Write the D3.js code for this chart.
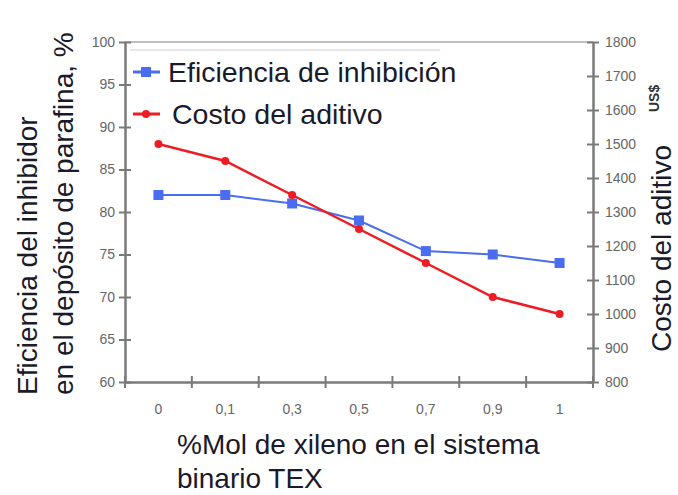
<!DOCTYPE html>
<html><head><meta charset="utf-8">
<script src="https://cdn.jsdelivr.net/npm/d3@7"></script>
<style>body{margin:0;background:#fff}svg{display:block}text{font-family:"Liberation Sans",Arial,sans-serif}</style>
</head><body>
<svg id="c" width="678" height="495"></svg>
<script>
const categories = ["0","0,1","0,3","0,5","0,7","0,9","1"];
const eficiencia = [82, 82, 81, 79, 75.4, 75, 74];
const costo = [1500, 1450, 1350, 1250, 1150, 1050, 1000];
const leftTicks = [60,65,70,75,80,85,90,95,100];
const rightTicks = [800,900,1000,1100,1200,1300,1400,1500,1600,1700,1800];
const seriesNames = ["Eficiencia de inhibición","Costo del aditivo"];

const svg = d3.select("#c");
const L=125, R=593, T=42, B=382;
const x = d3.scaleBand().domain(categories).range([L,R]).padding(0);
const yL = d3.scaleLinear().domain([60,100]).range([B,T]);
const yR = d3.scaleLinear().domain([800,1800]).range([B,T]);
const axisColor="#7a7a7a", labColor="#666", txt="#1a1a2a";

// top border
svg.append("line").attr("x1",L).attr("x2",R).attr("y1",T).attr("y2",T).attr("stroke","#aaa").attr("stroke-width",1.5);

// left axis
const gl = svg.append("g").attr("transform",`translate(${L},0)`)
  .call(d3.axisLeft(yL).tickValues(leftTicks).tickSizeInner(6).tickSizeOuter(0).tickPadding(4));
gl.selectAll(".tick line").attr("x2",6).attr("x1",-6);
// right axis
const gr = svg.append("g").attr("transform",`translate(${R},0)`)
  .call(d3.axisRight(yR).tickValues(rightTicks).tickFormat(d3.format("d")).tickSizeInner(6).tickSizeOuter(0).tickPadding(6));
gr.selectAll(".tick line").attr("x1",-6).attr("x2",6);
// bottom axis
const gb = svg.append("g").attr("transform",`translate(0,${B})`)
  .call(d3.axisBottom(x).tickSize(0).tickPadding(22));
gb.selectAll(".tick line").remove();
const edges = categories.map(c=>x(c)).concat([x(categories[categories.length-1])+x.bandwidth()]);
svg.append("g").selectAll("line").data(edges).join("line")
  .attr("x1",d=>d).attr("x2",d=>d).attr("y1",B-6).attr("y2",B+6)
  .attr("stroke",axisColor).attr("stroke-width",2);

[gl,gr,gb].forEach(g=>{
  g.select(".domain").attr("stroke",axisColor).attr("stroke-width",2.5);
  g.selectAll(".tick line").attr("stroke",axisColor).attr("stroke-width",2);
  g.selectAll(".tick text").attr("fill",labColor).attr("font-size",14);
});

// lines
const cx = c=>x(c)+x.bandwidth()/2;
const lineB = d3.line().x((d,i)=>cx(categories[i])).y(d=>yL(d));
const lineR = d3.line().x((d,i)=>cx(categories[i])).y(d=>yR(d));
svg.append("path").datum(eficiencia).attr("d",lineB).attr("fill","none").attr("stroke","#4a6cf0").attr("stroke-width",2);
svg.append("path").datum(costo).attr("d",lineR).attr("fill","none").attr("stroke","#ee1c24").attr("stroke-width",2.5);
svg.append("g").selectAll("rect").data(eficiencia).join("rect")
  .attr("x",(d,i)=>cx(categories[i])-5).attr("y",d=>yL(d)-5).attr("width",10).attr("height",10).attr("fill","#4a6cf0");
svg.append("g").selectAll("path").data(costo).join("path")
  .attr("transform",(d,i)=>`translate(${cx(categories[i])},${yR(d)})`)
  .attr("d",d3.symbol(d3.symbolCircle,50)).attr("fill","#ee1c24");

// legend
svg.append("line").attr("x1",130).attr("x2",440).attr("y1",50).attr("y2",50).attr("stroke","#e6e6e6").attr("stroke-width",2);
const leg = [{y:72,c:"#4a6cf0",shape:"sq"},{y:114,c:"#ee1c24",shape:"ci"}];
leg.forEach((l,i)=>{
  svg.append("line").attr("x1",133).attr("x2",160).attr("y1",l.y).attr("y2",l.y).attr("stroke",l.c).attr("stroke-width",3);
  if(l.shape==="sq") svg.append("rect").attr("x",141).attr("y",l.y-5).attr("width",10).attr("height",10).attr("fill",l.c);
  else svg.append("path").attr("transform",`translate(146,${l.y})`).attr("d",d3.symbol(d3.symbolCircle,50)).attr("fill",l.c);
  svg.append("text").attr("x",i===0?168:172).attr("y",l.y+10).attr("font-size",28.5).attr("fill",txt).text(seriesNames[i]);
});

// axis titles
const lt = svg.append("text").attr("transform","translate(37,395) rotate(-90)").attr("font-size",28).attr("fill",txt);
lt.append("tspan").attr("x",0).attr("y",0).text("Eficiencia del inhibidor");
lt.append("tspan").attr("x",0).attr("y",36).text("en el depósito de parafina, %");
svg.append("text").attr("transform","translate(671,352) rotate(-90)").attr("font-size",28).attr("fill",txt).text("Costo del aditivo");
svg.append("text").attr("transform","translate(659,112) rotate(-90)").attr("font-size",14).attr("font-weight","bold").attr("fill","#333").text("US$");
const xt = svg.append("text").attr("font-size",28).attr("fill",txt);
xt.append("tspan").attr("x",177).attr("y",454).text("%Mol de xileno en el sistema");
xt.append("tspan").attr("x",177).attr("y",488).text("binario TEX");
</script>
</body></html>
